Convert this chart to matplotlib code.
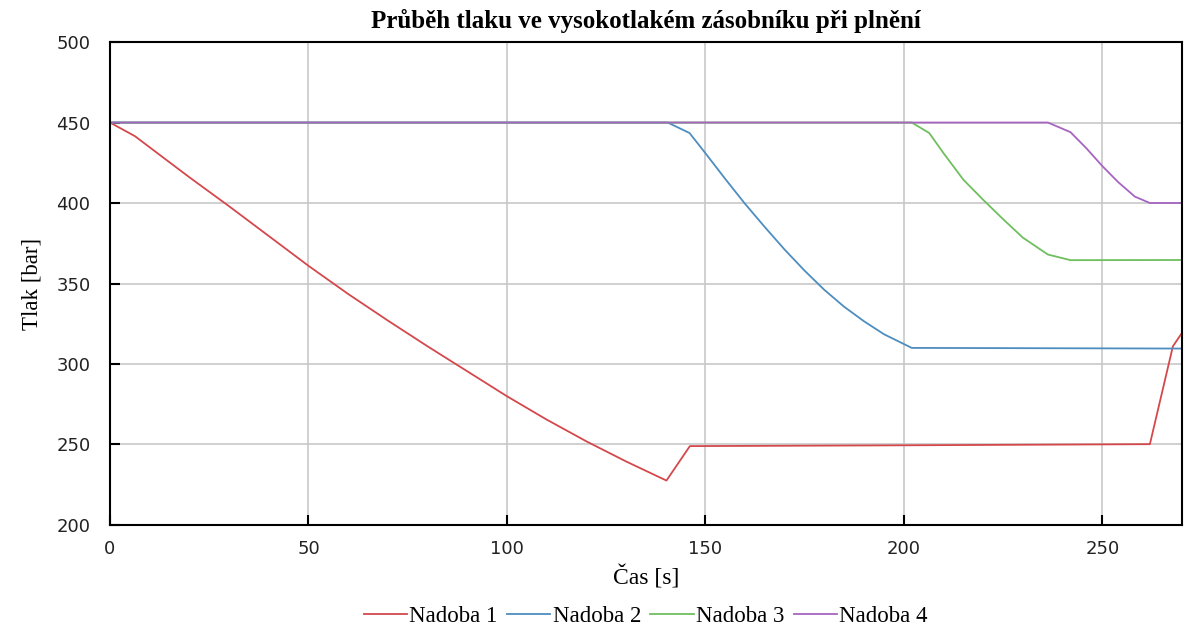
import matplotlib.pyplot as plt

# Nadoba 1
t1 = [0, 6.3, 13, 20, 30, 40, 50, 60, 70, 80, 90, 100, 110, 120, 130, 140.2,
      146.1, 200, 262, 267.8, 270]
p1 = [450, 441.5, 429, 416, 398, 379.5, 361, 343.5, 327, 311, 295.5, 280,
      265.5, 252, 239.5, 227.6, 249, 249.5, 250.2, 311, 319]

# Nadoba 2
t2 = [0, 140.5, 146, 150, 155, 160, 165, 170, 175, 180, 185, 190, 195, 202, 270]
p2 = [450, 450, 443.5, 431, 415, 399.5, 385, 371, 358, 346, 335.5, 326.5,
      318.5, 310, 309.6]

# Nadoba 3
t3 = [0, 202, 206.4, 210, 215, 220, 225, 230, 236.3, 242, 270]
p3 = [450, 450, 443.5, 431, 414.5, 402, 390, 378.5, 368, 364.5, 364.6]

# Nadoba 4
t4 = [0, 236.3, 242, 246, 250, 254, 258.2, 262, 270]
p4 = [450, 450, 444, 434, 423, 413, 404, 400, 400]

labels = ["Nadoba 1", "Nadoba 2", "Nadoba 3", "Nadoba 4"]
colors = ["#d4484c", "#4e8dbf", "#6fbf5f", "#a565c0"]

serif = ["Liberation Serif", "DejaVu Serif"]

fig = plt.figure(figsize=(11.84, 6.31), dpi=100)
ax = fig.add_axes([0.0929, 0.168, 0.9051, 0.7654])

for t, p, lab, col in zip([t1, t2, t3, t4], [p1, p2, p3, p4], labels, colors):
    ax.plot(t, p, color=col, lw=1.3, label=lab)

ax.set_xlim(0, 270)
ax.set_ylim(200, 500)
ax.set_xticks(range(0, 271, 50))
ax.set_yticks(range(200, 501, 50))
ax.grid(True, color="#c8c8c8", lw=1.2)
ax.set_axisbelow(True)

for sp in ax.spines.values():
    sp.set_color("black")
    sp.set_linewidth(1.5)

ax.tick_params(direction="in", length=7, width=1.5, labelsize=13,
               colors="black")
ax.tick_params(axis="y", pad=14)
ax.tick_params(axis="x", pad=11)
for lbl in ax.get_xticklabels() + ax.get_yticklabels():
    lbl.set_color("#222222")

ax.set_title("Průběh tlaku ve vysokotlakém zásobníku při plnění",
             family=serif, fontsize=18, fontweight="bold", pad=10)
ax.set_xlabel("Čas [s]", family=serif, fontsize=17, labelpad=5)
ax.set_ylabel("Tlak [bar]", family=serif, fontsize=16.5, labelpad=10)

ax.legend(loc="upper center", bbox_to_anchor=(0.5, -0.125), ncol=4,
          frameon=False, prop={"family": serif, "size": 16.5},
          handlelength=1.9, handletextpad=0.1, columnspacing=0.4)

fig.savefig("out.png", dpi=100)
